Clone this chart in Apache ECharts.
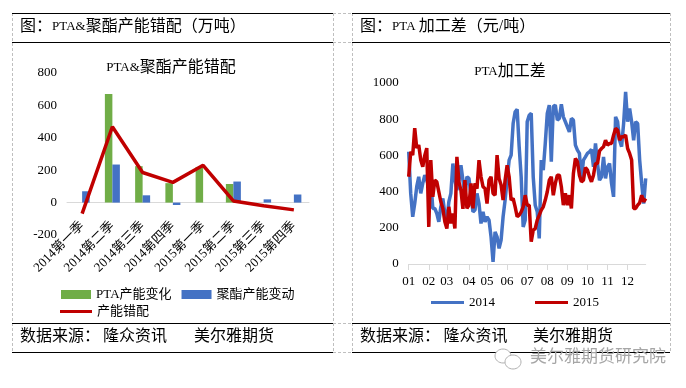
<!DOCTYPE html>
<html>
<head>
<meta charset="utf-8">
<style>html,body{margin:0;padding:0;background:#fff}#main{width:686px;height:388px}</style>
<script src="https://cdn.jsdelivr.net/npm/echarts@6/dist/echarts.min.js"></script>
</head>
<body>
<div id="main"></div>
<script>
var FONT = '"Liberation Serif","Noto Sans CJK SC",serif';
// left chart
var quarters = ['2014第一季','2014第二季','2014第三季','2014第四季','2015第一季','2015第二季','2015第三季','2015第四季'];
var ptaChange = [0,670,225,120,220,115,0,0];
var polyesterChange = [70,235,45,-15,0,130,20,50];
var mismatch = [-68,468,186,125,230,10,-20,-45];
// right chart
var monthLabels = ['01','02','03','04','05','06','07','08','09','10','11','12'];
var monthStarts = [0,10,19,30,39,49,59,69,79,89,99,109];
var spread2014 = [620,390,261,334,427,482,390,445,491,463,427,463,307,307,279,233,316,362,279,242,
  344,390,555,463,408,463,546,463,380,482,473,380,288,298,390,334,224,288,233,261,
  242,150,12,178,150,86,132,261,353,463,574,602,776,841,854,648,482,205,242,786,
  822,832,482,325,288,141,574,519,666,832,878,565,869,878,795,804,883,813,786,758,
  730,804,795,657,629,611,463,574,592,611,620,633,537,666,555,463,482,592,473,537,
  555,445,371,813,786,684,648,776,951,786,859,786,684,786,776,574,445,334,473];
var spread2015 = [482,620,602,750,640,657,574,537,600,640,205,574,371,463,454,399,344,307,233,196,
  316,224,279,196,592,454,408,305,463,307,325,445,307,445,417,574,482,427,417,334,
  463,482,390,380,602,473,436,353,463,546,482,353,362,316,261,270,288,316,380,325,
  325,123,187,196,242,270,298,316,353,399,463,482,380,445,491,491,427,325,390,325,
  380,307,500,583,565,491,454,463,533,519,482,454,491,555,555,625,638,648,684,657,
  666,666,712,749,740,684,703,703,712,638,611,574,307,307,325,338,380,344,362];

var days = [];
for (var i = 0; i < spread2014.length; i++) {
    var m = monthStarts.indexOf(i);
    days.push(m >= 0 ? monthLabels[m] : '');
}

// latin runs are drawn smaller than the cjk text in the headings
var latinRun = {a: {fontFamily: FONT, fontSize: 13, color: '#000'}};

function hline(x1, x2, y, color, dashed) {
    return {type: 'line', silent: true, shape: {x1: x1, y1: y, x2: x2, y2: y},
        style: {stroke: color, lineWidth: 1, lineDash: dashed ? [3, 2] : null}};
}
function vline(x, y1, y2) {
    return {type: 'line', silent: true, shape: {x1: x, y1: y1, x2: x, y2: y2},
        style: {stroke: '#BFBFBF', lineWidth: 1, lineDash: [3, 2]}};
}
function label(x, y, text, size, color) {
    return {type: 'text', silent: true, x: x, y: y,
        style: {text: text, fontFamily: FONT, fontSize: size, fill: color || '#000', verticalAlign: 'middle', rich: latinRun}};
}

var frame = [
    vline(12.5, 13, 352), vline(333.5, 13, 352), vline(352.5, 13, 352), vline(670.5, 13, 352),
    hline(333, 352, 13.5, '#BFBFBF', true), hline(333, 352, 42.5, '#BFBFBF', true),
    hline(333, 352, 323.5, '#BFBFBF', true), hline(333, 352, 352.5, '#BFBFBF', true),
    hline(12, 333, 13.5, '#000'), hline(12, 333, 42.5, '#000'), hline(12, 333, 323.5, '#000'), hline(12, 333, 352.5, '#000'),
    hline(352, 670, 13.5, '#000'), hline(352, 670, 42.5, '#000'), hline(352, 670, 323.5, '#000'), hline(352, 670, 352.5, '#000'),
    label(20, 27, '图：{a|PTA&}聚酯产能错配（万吨）', 16),
    label(360, 27, '图：{a|PTA }加工差（元/吨）', 16),
    label(20, 337, '数据来源：', 16),
    label(103, 337, '隆众资讯', 16),
    label(194, 337, '美尔雅期货', 16),
    label(360, 337, '数据来源：', 16),
    label(443.5, 337, '隆众资讯', 16),
    label(533, 337, '美尔雅期货', 16),
    // watermark
    {type: 'ellipse', silent: true, shape: {cx: 503, cy: 356, rx: 8, ry: 7}, style: {fill: '#fff', stroke: '#B0B0B0', lineWidth: 1}},
    {type: 'ellipse', silent: true, shape: {cx: 513, cy: 362, rx: 8, ry: 7}, style: {fill: '#fff', stroke: '#B0B0B0', lineWidth: 1}},
    label(530, 358, '美尔雅期货研究院', 17, '#A6A6A6')
];

var chart = echarts.init(document.getElementById('main'), null, {renderer: 'canvas'});
chart.setOption({
    animation: false,
    backgroundColor: '#fff',
    textStyle: {fontFamily: FONT, color: '#000'},
    title: [
        {text: '{a|PTA&}聚酯产能错配', left: 166, top: 55, textAlign: 'center',
            textStyle: {fontFamily: FONT, fontSize: 16, fontWeight: 'normal', color: '#000', rich: latinRun}},
        {text: '{a|PTA}加工差', left: 505, top: 59, textAlign: 'center',
            textStyle: {fontFamily: FONT, fontSize: 16, fontWeight: 'normal', color: '#000', rich: latinRun}}
    ],
    legend: [
        {left: 56, top: 283, icon: 'rect', itemWidth: 30, itemHeight: 9, itemGap: 10,
            data: ['PTA产能变化', '聚酯产能变动'], textStyle: {fontFamily: FONT, fontSize: 13, color: '#000'}},
        {left: 55, top: 300, icon: 'rect', itemWidth: 32, itemHeight: 3, data: ['产能错配'],
            textStyle: {fontFamily: FONT, fontSize: 13, color: '#000'}},
        {left: 426, top: 291, icon: 'rect', itemWidth: 33, itemHeight: 3, itemGap: 40, data: ['2014', '2015'],
            textStyle: {fontFamily: FONT, fontSize: 13, color: '#000'}}
    ],
    grid: [
        {left: 67, top: 73, width: 242, height: 162},
        {left: 408.7, top: 83, width: 237, height: 181}
    ],
    xAxis: [
        {type: 'category', gridIndex: 0, data: quarters,
            axisLine: {onZero: true, lineStyle: {color: '#D9D9D9', width: 1}},
            axisTick: {show: false},
            axisLabel: {rotate: 45, margin: -11, interval: 0, fontFamily: FONT, fontSize: 13, color: '#000'}},
        {type: 'category', gridIndex: 1, data: days, boundaryGap: false,
            axisLine: {lineStyle: {color: '#D9D9D9', width: 1}},
            axisTick: {length: 6, lineStyle: {color: '#D9D9D9'},
                interval: function(idx, val) { return val !== ''; }},
            axisLabel: {margin: 11, fontFamily: FONT, fontSize: 13, color: '#000',
                interval: function(idx, val) { return val !== ''; }}}
    ],
    yAxis: [
        {type: 'value', gridIndex: 0, min: -200, max: 800, interval: 200,
            axisLine: {show: false}, axisTick: {show: false}, splitLine: {show: false},
            axisLabel: {margin: 10, fontFamily: FONT, fontSize: 13, color: '#000'}},
        {type: 'value', gridIndex: 1, min: 0, max: 1000, interval: 200,
            axisLine: {show: false}, axisTick: {show: false}, splitLine: {show: false},
            axisLabel: {margin: 10, fontFamily: FONT, fontSize: 13, color: '#000',
                formatter: function(v) { return String(v); }}}
    ],
    series: [
        {name: 'PTA产能变化', type: 'bar', xAxisIndex: 0, yAxisIndex: 0, data: ptaChange,
            barWidth: 7.5, barGap: 0, itemStyle: {color: '#70AD47'}},
        {name: '聚酯产能变动', type: 'bar', xAxisIndex: 0, yAxisIndex: 0, data: polyesterChange,
            barWidth: 7.5, barGap: 0, itemStyle: {color: '#4472C4'}},
        {name: '产能错配', type: 'line', xAxisIndex: 0, yAxisIndex: 0, data: mismatch,
            showSymbol: false, symbol: 'none', lineStyle: {color: '#C00000', width: 3.5}, itemStyle: {color: '#C00000'}},
        {name: '2014', type: 'line', xAxisIndex: 1, yAxisIndex: 1, data: spread2014,
            showSymbol: false, symbol: 'none', lineStyle: {color: '#4472C4', width: 3.5}, itemStyle: {color: '#4472C4'}},
        {name: '2015', type: 'line', xAxisIndex: 1, yAxisIndex: 1, data: spread2015,
            showSymbol: false, symbol: 'none', lineStyle: {color: '#C00000', width: 3.5}, itemStyle: {color: '#C00000'}}
    ],
    graphic: frame
});
</script>
</body>
</html>
